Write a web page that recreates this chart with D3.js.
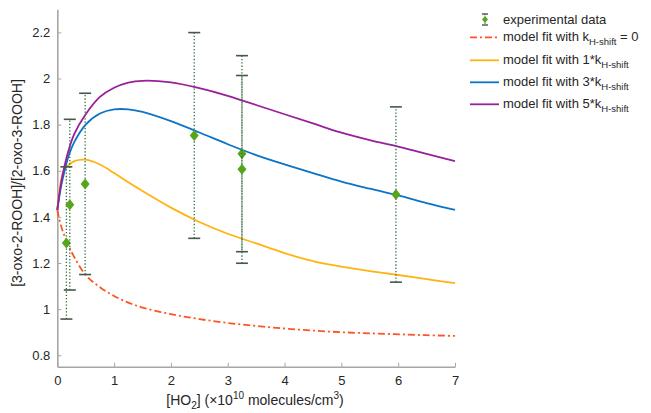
<!DOCTYPE html>
<html>
<head>
<meta charset="utf-8">
<script src="https://cdn.jsdelivr.net/npm/d3@7"></script>
<style>
  body { margin: 0; background: #fff; }
  text { font-family: "Liberation Sans", Arial, sans-serif; fill: #262626; }
</style>
</head>
<body>
<div id="chart"></div>
<script>
var width = 651,
    height = 413;

// model curves
var xs      = [0, 0.05, 0.1, 0.2, 0.3, 0.5, 0.75, 1, 1.25, 1.5, 2, 2.5, 3, 3.5, 4, 4.5, 5, 5.5, 6, 6.5, 7];
var fit0    = [1.43, 1.375, 1.335, 1.275, 1.225, 1.148, 1.095, 1.057, 1.028, 1.007, 0.978, 0.957, 0.94, 0.927, 0.916, 0.907, 0.9, 0.895, 0.891, 0.887, 0.884];
var fit1    = [1.43, 1.535, 1.59, 1.625, 1.642, 1.648, 1.627, 1.59, 1.55, 1.512, 1.44, 1.378, 1.327, 1.285, 1.243, 1.208, 1.184, 1.165, 1.148, 1.13, 1.113];
var fit3    = [1.43, 1.51, 1.57, 1.665, 1.725, 1.80, 1.848, 1.866, 1.866, 1.855, 1.815, 1.766, 1.715, 1.668, 1.628, 1.59, 1.553, 1.522, 1.493, 1.46, 1.43];
var fit5    = [1.43, 1.52, 1.59, 1.69, 1.76, 1.845, 1.92, 1.96, 1.982, 1.99, 1.983, 1.958, 1.925, 1.885, 1.845, 1.805, 1.765, 1.733, 1.705, 1.673, 1.642];

// experimental points
var expX   = [0.16, 0.22, 0.49, 2.41, 3.25, 3.25, 5.96];
var expY   = [1.287, 1.453, 1.543, 1.753, 1.674, 1.606, 1.497];
var expErr = [0.33, 0.37, 0.393, 0.446, 0.425, 0.407, 0.38];

var xTicks = [0, 1, 2, 3, 4, 5, 6, 7];
var yTicks = [0.8, 1, 1.2, 1.4, 1.6, 1.8, 2, 2.2];

var series = [
  { name: "0", vals: fit0, color: "#ff5421", dash: "7,3,2,3" },
  { name: "1", vals: fit1, color: "#ffb30f", dash: null },
  { name: "3", vals: fit3, color: "#0a74c8", dash: null },
  { name: "5", vals: fit5, color: "#9a1f9a", dash: null }
];

var x = d3.scaleLinear().domain([0, 7]).range([57.3, 455]);
var y = d3.scaleLinear().domain([0.75, 2.3]).range([366.8, 9.3]);

var svg = d3.select("#chart").append("svg")
    .attr("width", width)
    .attr("height", height);

// axes
var xAxis = svg.append("g")
    .attr("transform", "translate(0," + y(0.75) + ")")
    .call(d3.axisBottom(x).tickValues(xTicks).tickFormat(d3.format("d")).tickSizeInner(-4).tickSizeOuter(0).tickPadding(9));

var yAxis = svg.append("g")
    .attr("transform", "translate(" + x(0) + ",0)")
    .call(d3.axisLeft(y).tickValues(yTicks).tickFormat(function(d) { return d === 1 || d === 2 ? d : d3.format(".1f")(d); })
      .tickSizeInner(-4).tickSizeOuter(0).tickPadding(7));

[xAxis, yAxis].forEach(function(a) {
  a.select(".domain").attr("stroke", "#a6a6a6").attr("stroke-width", 1.6);
  a.selectAll(".tick line").attr("stroke", "#a6a6a6").attr("stroke-width", 1);
  a.selectAll(".tick text").style("font-size", "13px").attr("fill", "#262626");
});

// curves
var line = d3.line()
    .x(function(d) { return x(d[0]); })
    .y(function(d) { return y(d[1]); })
    .curve(d3.curveCatmullRom);

series.forEach(function(s) {
  svg.append("path")
      .datum(xs.map(function(v, i) { return [v, s.vals[i]]; }))
      .attr("fill", "none")
      .attr("stroke", s.color)
      .attr("stroke-width", 1.8)
      .attr("stroke-dasharray", s.dash)
      .attr("d", line);
});

// error bars
var pts = expX.map(function(v, i) { return { x: v, y: expY[i], e: expErr[i] }; });

var eb = svg.selectAll(".eb").data(pts).enter().append("g").attr("class", "eb");

eb.append("line")
    .attr("x1", function(d) { return x(d.x); })
    .attr("x2", function(d) { return x(d.x); })
    .attr("y1", function(d) { return y(d.y - d.e); })
    .attr("y2", function(d) { return y(d.y + d.e); })
    .attr("stroke", "#2f6a3e")
    .attr("stroke-width", 1.3)
    .attr("stroke-dasharray", "1.3,2");

[-1, 1].forEach(function(sgn) {
  eb.append("line")
      .attr("x1", function(d) { return x(d.x) - 6; })
      .attr("x2", function(d) { return x(d.x) + 6; })
      .attr("y1", function(d) { return y(d.y + sgn * d.e); })
      .attr("y2", function(d) { return y(d.y + sgn * d.e); })
      .attr("stroke", "#44594b")
      .attr("stroke-width", 1.6);
});

function diamond(cx, cy, w, h) {
  return "M" + cx + "," + (cy - h) + "L" + (cx + w) + "," + cy + "L" + cx + "," + (cy + h) + "L" + (cx - w) + "," + cy + "Z";
}

eb.append("path")
    .attr("d", function(d) { return diamond(x(d.x), y(d.y), 4.5, 5.5); })
    .attr("fill", "#57a51b");

// legend
var lg = svg.append("g");
lg.append("line").attr("x1", 485).attr("x2", 485).attr("y1", 14).attr("y2", 25)
    .attr("stroke", "#2f6a3e").attr("stroke-width", 1.2).attr("stroke-dasharray", "1.3,1.5");
[14, 25].forEach(function(yy) {
  lg.append("line").attr("x1", 482).attr("x2", 488).attr("y1", yy).attr("y2", yy)
      .attr("stroke", "#44594b").attr("stroke-width", 1.4);
});
lg.append("path").attr("d", diamond(485, 19.5, 3, 3.5)).attr("fill", "#57a51b");
lg.append("text").attr("x", 503).attr("y", 24).style("font-size", "13px").text("experimental data");

var rowY = [37.3, 60.3, 82.3, 104.3];
series.forEach(function(s, i) {
  lg.append("line").attr("x1", 470).attr("x2", 499).attr("y1", rowY[i]).attr("y2", rowY[i])
      .attr("stroke", s.color).attr("stroke-width", 1.8).attr("stroke-dasharray", s.dash);
  var t = lg.append("text").attr("x", 503).attr("y", rowY[i] + 4).style("font-size", "13px");
  if (s.name === "0") {
    t.append("tspan").text("model fit with k");
    t.append("tspan").attr("dy", 4).style("font-size", "9.5px").text("H-shift");
    t.append("tspan").attr("dy", -4).text(" = 0");
  } else {
    t.append("tspan").text("model fit with " + s.name + "*k");
    t.append("tspan").attr("dy", 4).style("font-size", "9.5px").text("H-shift");
  }
});

// axis labels
var xl = svg.append("text")
    .attr("x", 255).attr("y", 405)
    .attr("text-anchor", "middle")
    .style("font-size", "14px");
xl.append("tspan").text("[HO");
xl.append("tspan").attr("dy", 4).style("font-size", "10px").text("2");
xl.append("tspan").attr("dy", -4).text("] (\u00d710");
xl.append("tspan").attr("dy", -6).style("font-size", "10px").text("10");
xl.append("tspan").attr("dy", 6).text(" molecules/cm");
xl.append("tspan").attr("dy", -6).style("font-size", "10px").text("3");
xl.append("tspan").attr("dy", 6).text(")");

svg.append("text")
    .attr("transform", "translate(22,183) rotate(-90)")
    .attr("text-anchor", "middle")
    .style("font-size", "14px")
    .text("[3-oxo-2-ROOH]/[2-oxo-3-ROOH]");
</script>
</body>
</html>
